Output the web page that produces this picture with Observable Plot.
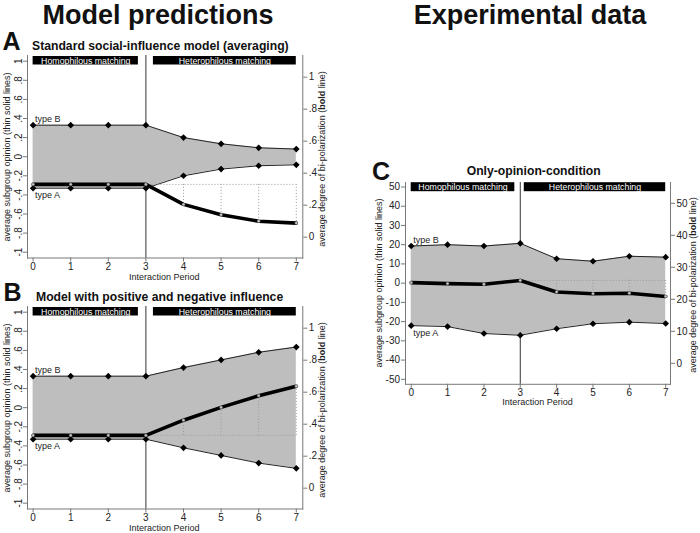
<!DOCTYPE html>
<html><head><meta charset="utf-8">
<script src="https://cdn.jsdelivr.net/npm/d3@7"></script>
<script src="https://cdn.jsdelivr.net/npm/@observablehq/plot@0.6"></script>
<style>
body{margin:0;background:#fff;}
#root{position:relative;width:700px;height:533px;overflow:hidden;background:#fff;font-family:"Liberation Sans",Arial,sans-serif;color:#111;}
.abs{position:absolute;white-space:nowrap;line-height:1;}
.hdr{font-weight:bold;font-size:27px;line-height:30px;text-align:center;}
.letter{font-weight:bold;font-size:25px;}
.ptitle{font-weight:bold;font-size:12.2px;}
.ax{font-size:9px;color:#222;}
.rot{transform:translate(-50%,-50%) rotate(-90deg);}
.ctr{transform:translate(-50%,-50%);}
</style></head>
<body><div id="root"></div>
<script>
// ---------------- data ----------------
const periods = [0,1,2,3,4,5,6,7];
const modelA_typeA   = [-0.33,-0.33,-0.33,-0.33,-0.20,-0.13,-0.095,-0.085];
const modelA_typeB   = [0.33,0.33,0.33,0.33,0.20,0.135,0.093,0.08];
const modelA_bipolar = [0.33,0.33,0.33,0.33,0.205,0.14,0.10,0.088];
const modelB_typeA   = [-0.33,-0.33,-0.33,-0.33,-0.42,-0.50,-0.58,-0.635];
const modelB_typeB   = [0.33,0.33,0.33,0.33,0.42,0.50,0.58,0.635];
const modelB_bipolar = [0.33,0.33,0.33,0.33,0.425,0.505,0.578,0.637];
const exp_typeA      = [-22.1,-22.6,-26.2,-27.1,-23.7,-21.1,-20.3,-21.0];
const exp_typeB      = [19.3,20.0,19.3,20.7,12.7,11.4,14.0,13.5];
const exp_bipolar    = [25.2,24.9,24.7,25.9,22.3,21.75,21.9,20.9];
const modelLeftTicks  = [-1,-0.8,-0.6,-0.4,-0.2,0,0.2,0.4,0.6,0.8,1];
const modelRightTicks = [0,0.2,0.4,0.6,0.8,1];
const expLeftTicks    = [-50,-40,-30,-20,-10,0,10,20,30,40,50];
const expRightTicks   = [0,10,20,30,40,50];
const phaseNames      = ["Homophilous matching","Heterophilous matching"];
const modelPhaseStart = [0,3.2], modelPhaseEnd = [2.8,7];
const expPhaseStart   = [0,3.11], expPhaseEnd  = [2.85,7];
const headers      = ["Model predictions","Experimental data"];
const panelLetters = ["A","B","C"];
const panelTitles  = ["Standard social-influence model (averaging)","Model with positive and negative influence","Only-opinion-condition"];
const typeLabels   = ["type A","type B"];
const xTitle       = "Interaction Period";
const leftTitle    = "average subgroup opinion (thin solid lines)";
const rightTitleParts = ["average degree of bi-polarization (","bold"," line)"];

// ---------------- helpers ----------------
const root = document.getElementById("root");
function addDiv(cls, html, css){
  const d = document.createElement("div");
  d.className = "abs " + cls;
  d.innerHTML = html;
  Object.assign(d.style, css);
  root.appendChild(d);
  return d;
}
const fmtModel = d => { if (d === 0) return "0"; const s = String(Math.round(d*10)/10); return s.replace("0.", "."); };
const fmtExp = d => String(d);
const FONT = "Liberation Sans, Arial, sans-serif";

function buildPanel(cfg){
  const F = cfg.frame;
  const bx = F.l - 30, by = F.t - 4, bw = (F.r + 34) - bx, bh = (F.b + 24) - by;
  const common = {
    width: bw, height: bh,
    marginLeft: F.l - bx, marginRight: bx + bw - F.r,
    marginTop: F.t - by, marginBottom: by + bh - F.b,
    style: {fontFamily: FONT, fontSize: "10px", color: "#222", background: "transparent", overflow: "visible"}
  };
  const xs = {domain: [0,7], range: [cfg.x0 - bx, cfg.x7 - bx]};
  const rows = periods.map((t,i) => ({t, a: cfg.typeA[i], b: cfg.typeB[i], p: cfg.bipolar[i]}));
  const yL = d3.scaleLinear().domain(cfg.yLdom).range(cfg.yLpx);
  const barTop = yL.invert(cfg.barPx[0]), barBot = yL.invert(cfg.barPx[1]);
  const bars = phaseNames.map((name,i) => ({name, x1: cfg.phaseStart[i], x2: cfg.phaseEnd[i]}));
  const labels = [
    {t: periods[0], v: cfg.typeB[0], s: typeLabels[1]},
    {t: periods[0], v: cfg.typeA[0], s: typeLabels[0]}
  ];
  const left = Plot.plot({
    ...common,
    x: xs,
    y: {domain: cfg.yLdom, range: cfg.yLpx.map(v => v - by)},
    marks: [
      Plot.ruleX([3], {stroke: "#333", strokeWidth: 1}),
      Plot.areaY(rows, {x: "t", y1: "a", y2: "b", fill: "#bebebe"}),
      Plot.line(rows, {x: "t", y: "a", stroke: "#222", strokeWidth: 1}),
      Plot.line(rows, {x: "t", y: "b", stroke: "#222", strokeWidth: 1}),
      Plot.dot(rows, {x: "t", y: "a", symbol: "diamond2", r: 3, fill: "#000", stroke: "none"}),
      Plot.dot(rows, {x: "t", y: "b", symbol: "diamond2", r: 3, fill: "#000", stroke: "none"}),
      Plot.rect(bars, {x1: "x1", x2: "x2", y1: barBot, y2: barTop, fill: "#000"}),
      Plot.text(bars, {x: d => (d.x1 + d.x2)/2, y: (barTop + barBot)/2, text: "name", fill: "#fff", fontSize: 8.8}),
      Plot.text(labels.slice(0,1), {x: "t", y: "v", text: "s", textAnchor: "start", dx: 2, dy: -6, fontSize: 9, fill: "#222"}),
      Plot.text(labels.slice(1), {x: "t", y: "v", text: "s", textAnchor: "start", dx: 2, dy: 7, fontSize: 9, fill: "#222"}),
      Plot.frame({anchor: "left", stroke: "#777"}),
      Plot.frame({anchor: "bottom", stroke: "#777"}),
      Plot.frame({anchor: "right", stroke: "#777"}),
      Plot.axisX({ticks: periods, tickFormat: d => String(d), tickSize: 4, tickPadding: 1, label: null, stroke: "#777", fill: "#222"}),
      Plot.axisY({anchor: "left", ticks: cfg.leftTicks, tickFormat: cfg.fmt, tickSize: 4, tickPadding: cfg.rotate ? 2 : 1.5,
                  tickRotate: cfg.rotate ? -90 : 0, label: null, stroke: "#777", fill: "#222"})
    ]
  });
  const base = cfg.bipolar[3];
  const later = rows.filter(r => r.t > 3);
  const right = Plot.plot({
    ...common,
    x: {...xs, axis: null},
    y: {domain: cfg.yRdom, range: cfg.yRpx.map(v => v - by)},
    marks: [
      Plot.ruleY([base], {x1: 3, x2: 7, stroke: "#9a9a9a", strokeDasharray: "1,2"}),
      Plot.ruleX(later, {x: "t", y1: base, y2: "p", stroke: "#9a9a9a", strokeDasharray: "1,2"}),
      Plot.line(rows, {x: "t", y: "p", stroke: "#000", strokeWidth: 3.6}),
      Plot.dot(rows, {x: "t", y: "p", r: 1.4, fill: "#c8c8c8", stroke: "#777", strokeWidth: 0.5}),
      Plot.axisY({anchor: "right", ticks: cfg.rightTicks, tickFormat: cfg.fmt, tickSize: 4, tickPadding: 2, label: null, stroke: "#777", fill: "#222"})
    ]
  });
  for (const svg of [left, right]) {
    svg.style.position = "absolute";
    svg.style.left = bx + "px";
    svg.style.top = by + "px";
    root.appendChild(svg);
  }
  // titles
  addDiv("letter", cfg.letter, {left: cfg.letterPos[0] + "px", top: cfg.letterPos[1] + "px"});
  addDiv("ptitle", cfg.title, {left: cfg.titlePos[0] + "px", top: cfg.titlePos[1] + "px"});
  addDiv("ax ctr", xTitle, {left: ((F.l + F.r)/2) + "px", top: (F.b + cfg.xTitleOff) + "px"});
  addDiv("ax rot", leftTitle, {left: cfg.leftTitleX + "px", top: ((F.t + F.b)/2 + 1) + "px"});
  addDiv("ax rot", rightTitleParts[0] + "<b>" + rightTitleParts[1] + "</b>" + rightTitleParts[2],
         {left: cfg.rightTitleX + "px", top: ((F.t + F.b)/2 + 3) + "px"});
}

// headers
addDiv("hdr", headers[0], {left: "0px", width: "316px", top: "0px"});
addDiv("hdr", headers[1], {left: "380px", width: "300px", top: "0px"});

const dB = 250.8;
buildPanel({
  letter: panelLetters[0], title: panelTitles[0], letterPos: [2.5, 28.8], titlePos: [32, 39.7],
  frame: {l: 26.7, r: 302, t: 55, b: 257.5}, x0: 32.3, x7: 295.5,
  yLdom: [-1,1], yLpx: [251.7, 60.7], yRdom: [0,1], yRpx: [236.7, 76.7], barPx: [56, 64.5],
  typeA: modelA_typeA, typeB: modelA_typeB, bipolar: modelA_bipolar,
  leftTicks: modelLeftTicks, rightTicks: modelRightTicks, fmt: fmtModel, rotate: true,
  phaseStart: modelPhaseStart, phaseEnd: modelPhaseEnd,
  xTitleOff: 19.5, leftTitleX: 6.7, rightTitleX: 321.7
});
buildPanel({
  letter: panelLetters[1], title: panelTitles[1], letterPos: [3.5, 28.8 + dB], titlePos: [36, 39.7 + dB],
  frame: {l: 26.7, r: 302, t: 55 + dB, b: 257.5 + dB}, x0: 32.3, x7: 295.5,
  yLdom: [-1,1], yLpx: [251.7 + dB, 60.7 + dB], yRdom: [0,1], yRpx: [236.7 + dB, 76.7 + dB], barPx: [56 + dB, 64.5 + dB],
  typeA: modelB_typeA, typeB: modelB_typeB, bipolar: modelB_bipolar,
  leftTicks: modelLeftTicks, rightTicks: modelRightTicks, fmt: fmtModel, rotate: true,
  phaseStart: modelPhaseStart, phaseEnd: modelPhaseEnd,
  xTitleOff: 19.5, leftTitleX: 6.7, rightTitleX: 321.7
});
buildPanel({
  letter: panelLetters[2], title: panelTitles[2], letterPos: [372, 159.3], titlePos: [466.7, 164.7],
  frame: {l: 405, r: 670, t: 181.5, b: 383.3}, x0: 410.7, x7: 665.2,
  yLdom: [-50,50], yLpx: [378.3, 186], yRdom: [0,50], yRpx: [362.3, 202.3], barPx: [181.7, 190.7],
  typeA: exp_typeA, typeB: exp_typeB, bipolar: exp_bipolar,
  leftTicks: expLeftTicks, rightTicks: expRightTicks, fmt: fmtExp, rotate: false,
  phaseStart: expPhaseStart, phaseEnd: expPhaseEnd,
  xTitleOff: 18.7, leftTitleX: 379, rightTitleX: 693
});
</script>
</body></html>
